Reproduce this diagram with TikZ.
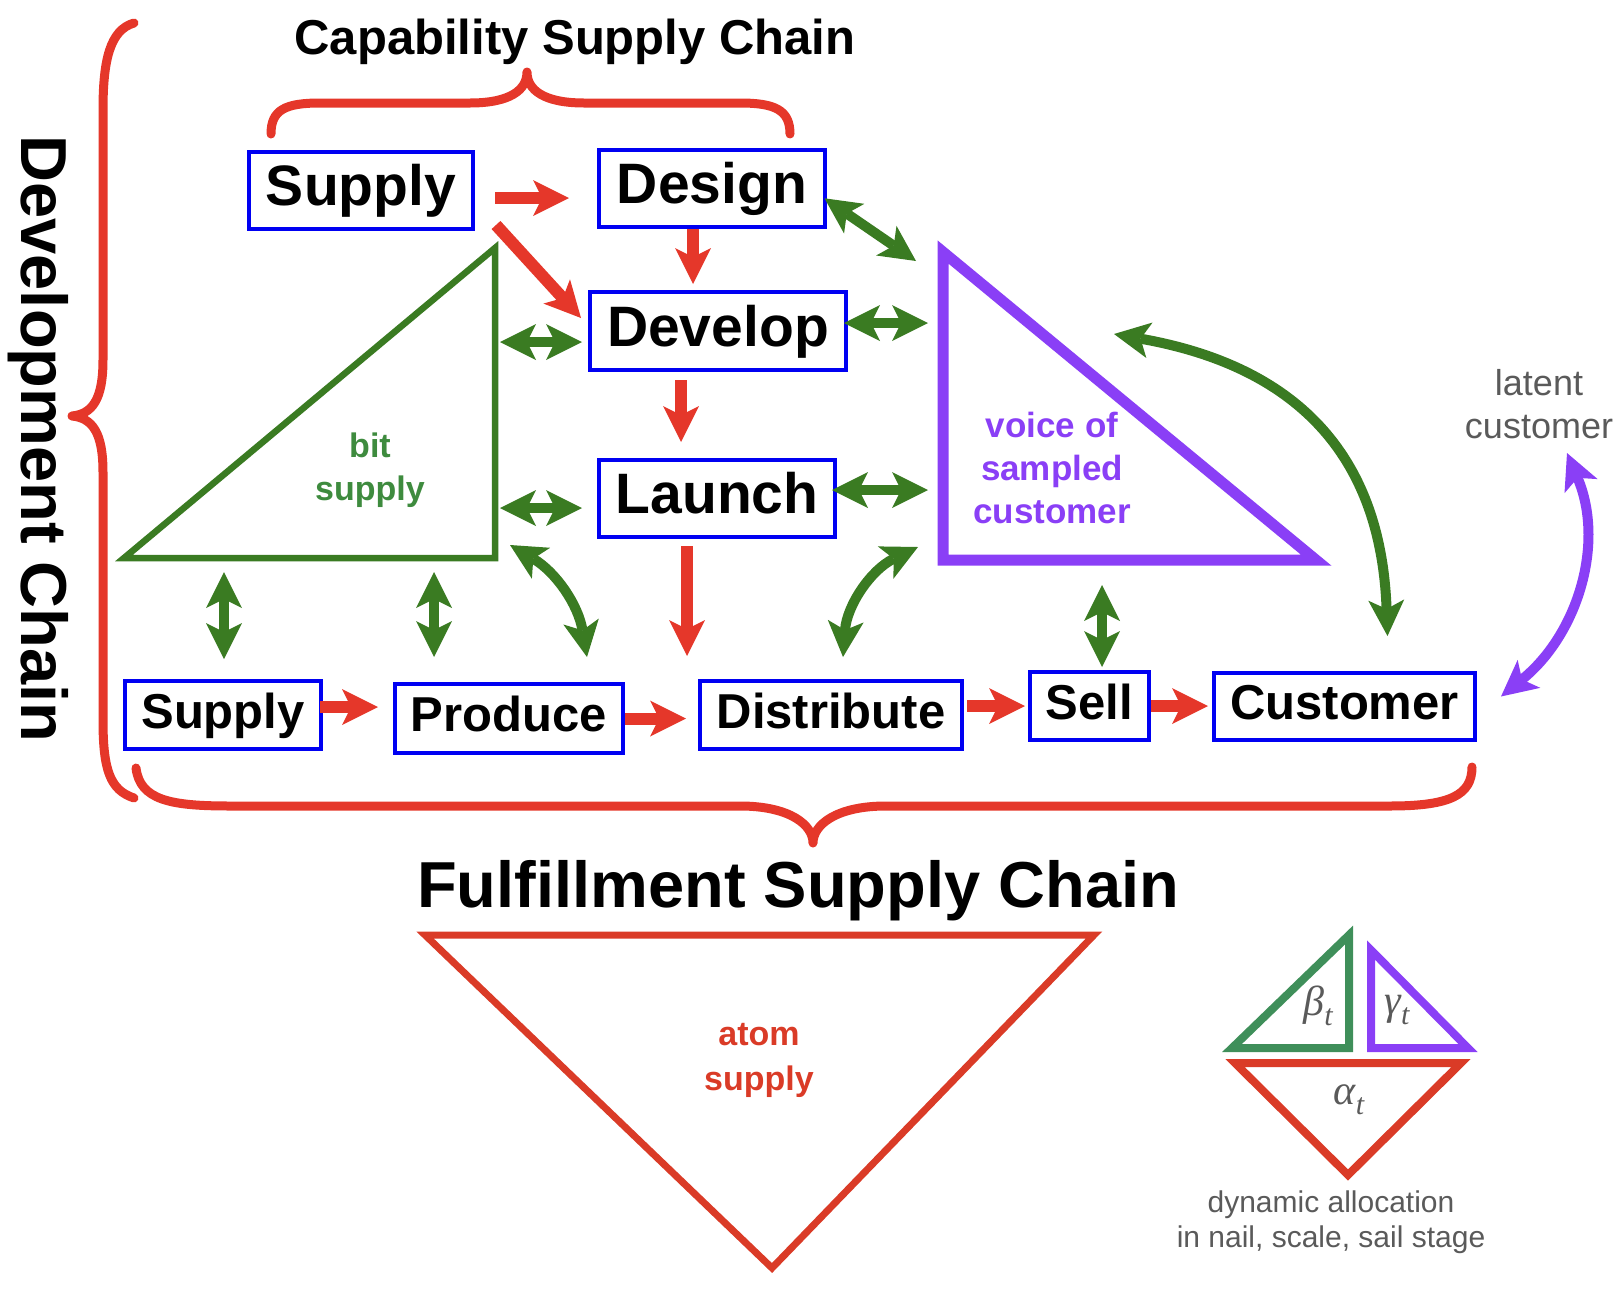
\documentclass[tikz,border=0pt]{standalone}
\usepackage{fontspec}
\setmainfont{Liberation Sans}
\newfontfamily\keyfont{Liberation Serif}
\usetikzlibrary{arrows.meta,positioning,calc}

\definecolor{chainred}{HTML}{E5372A}
\definecolor{atomred}{HTML}{DA3B27}
\definecolor{boxblue}{HTML}{0000F2}
\definecolor{bitgreen}{HTML}{3A7B22}
\definecolor{bittext}{HTML}{3E8B3E}
\definecolor{keygreen}{HTML}{3F8F5A}
\definecolor{voicepurple}{HTML}{8A3FF6}
\definecolor{notegray}{HTML}{5A5A5A}

\newcommand{\keysym}[1]{#1\raisebox{-10pt}{\fontsize{30}{30}\selectfont t}}

\begin{document}
\begin{tikzpicture}[x=1pt, y=1pt,
    stage/.style={rectangle, draw=boxblue, line width=4pt, inner sep=0pt, text height=42pt, text depth=12pt, font=\fontsize{57}{60}\selectfont\bfseries},
    smallstage/.style={stage, text height=36pt, text depth=10pt, font=\fontsize{49}{52}\selectfont\bfseries},
    fat/.tip={Stealth[length=36pt, width=36pt, inset=9pt, line width=0pt]},
    flow/.style={draw=chainred, line width=12pt, -fat},
    link/.style={draw=bitgreen, line width=10pt, fat-fat},
    voicelink/.style={draw=voicepurple, line width=10pt, fat-fat},
    brace/.style={draw=chainred, line width=9pt, line cap=round, line join=round},
    title/.style={anchor=base, font=\fontsize{65}{70}\selectfont\bfseries},
    tag/.style={align=center, font=\fontsize{35}{43}\selectfont\bfseries},
    note/.style={align=center, text=notegray},
    keytag/.style={text=notegray, inner sep=0pt, font=\fontsize{42}{44}\selectfont\keyfont\itshape}
]
\useasboundingbox (0,0) rectangle (1620,-1288);

% Titles
\node (capTitle) [title, font=\fontsize{49}{52}\selectfont\bfseries] at (575,-54) {Capability Supply Chain};
\node (fulTitle) [title] at (798,-907) {Fulfillment Supply Chain};
\node (devTitle) [title, rotate=-90] at (21,-439) {Development Chain};

% Braces
\draw [brace] (271,-134) .. controls (271,-110) and (285,-103) .. (320,-103) -- (470,-103)
    .. controls (510,-103) and (527,-90) .. (527,-72) .. controls (527,-90) and (544,-103) .. (584,-103)
    -- (740,-103) .. controls (775,-103) and (790,-110) .. (790,-134);
\draw [brace] (134,-23) .. controls (110,-30) and (103,-60) .. (103,-110) -- (103,-360)
    .. controls (103,-400) and (92,-414) .. (72,-416) .. controls (92,-418) and (103,-432) .. (103,-472)
    -- (103,-720) .. controls (103,-770) and (110,-790) .. (134,-798);
\draw [brace] (136,-768) .. controls (140,-800) and (170,-806) .. (230,-806) -- (740,-806)
    .. controls (790,-806) and (813,-825) .. (813,-843) .. controls (813,-825) and (836,-806) .. (886,-806)
    -- (1390,-806) .. controls (1450,-806) and (1472,-795) .. (1472,-767);

% Capability chain
\node (supT) [stage, minimum width=224pt, minimum height=77pt] at (361,-190.5) {Supply};
\node (desT) [stage, minimum width=226pt, minimum height=77pt] at (712,-188.5) {Design};
\node (dev) [stage, minimum width=256pt, minimum height=78pt] at (718,-331) {Develop};
\node (lau) [stage, minimum width=236pt, minimum height=77pt] at (717,-498.5) {Launch};

% Fulfillment chain
\node (supB) [smallstage, minimum width=196pt, minimum height=68pt] at (223,-715) {Supply};
\node (pro) [smallstage, minimum width=228pt, minimum height=69pt] at (509,-718.5) {Produce};
\node (dis) [smallstage, minimum width=262pt, minimum height=68pt] at (831,-715) {Distribute};
\node (sel) [smallstage, minimum width=119pt, minimum height=68pt] at (1089.5,-706) {Sell};
\node (cus) [smallstage, minimum width=261pt, minimum height=67pt] at (1344.5,-706.5) {Customer};

% Bit supply triangle
\coordinate (bitL) at (124,-558);
\coordinate (bitR) at (495,-558);
\coordinate (bitT) at (495,-248);
\draw [bitgreen, line width=6.5pt] (bitL) -- (bitR) -- (bitT) -- cycle;
\node (bitText) [tag, text=bittext, font=\fontsize{34}{43}\selectfont\bfseries] at (370,-470) {bit\\supply};
\coordinate (bitDev) at (500,-342);
\coordinate (bitLau) at (500,-508);
\coordinate (bitSup) at (224,-572);
\coordinate (bitPro) at (434,-572);
\coordinate (bitCor) at (510,-545);

% Voice of customer triangle
\coordinate (voiT) at (943,-252);
\coordinate (voiL) at (943,-560);
\coordinate (voiR) at (1316,-560);
\draw [voicepurple, line width=11pt] (voiT) -- (voiL) -- (voiR) -- cycle;
\node (voiText) [tag, text=voicepurple] at (1052,-468) {voice of\\sampled\\customer};
\coordinate (voiDes) at (916,-261);
\coordinate (voiDev) at (928,-323);
\coordinate (voiLau) at (928,-490);
\coordinate (voiDis) at (918,-547);
\coordinate (voiSel) at (1102,-585);
\coordinate (voiCus) at (1114,-334);

% Latent customer
\node (lat) [note, font=\fontsize{36}{43}\selectfont] at (1539,-404) {latent\\customer};
\coordinate (latCus) at (1567,-453);

% Atom supply triangle
\coordinate (atoL) at (425,-935);
\coordinate (atoR) at (1094,-935);
\coordinate (atoB) at (772,-1268);
\draw [atomred, line width=7pt] (atoL) -- (atoR) -- (atoB) -- cycle;
\node (atoText) [tag, text=atomred, font=\fontsize{34}{45}\selectfont\bfseries] at (759,-1060) {atom\\supply};

% Red flow arrows
\draw [flow, shorten <=20pt, shorten >=28pt] ([yshift=-7.5pt]supT.east) -- ([yshift=-7.5pt]supT.east -| desT.west);
\draw [flow] ([xshift=21pt, yshift=6pt]supT.south east) -- ([xshift=-7pt, yshift=13pt]dev.west);
\draw [flow, shorten >=6pt] ([xshift=-19pt]desT.south) -- ([xshift=-19pt]desT.south |- dev.north);
\draw [flow, shorten <=8pt, shorten >=16pt] ([xshift=-37pt]dev.south) -- ([xshift=-37pt]dev.south |- lau.north);
\draw [flow, shorten <=7pt, shorten >=23pt] ([xshift=-30pt]lau.south) -- ([xshift=-30pt]lau.south |- dis.north);
\draw [flow, shorten <=-3pt, shorten >=15pt] ([yshift=8pt]supB.east) -- ([yshift=8pt]supB.east -| pro.west);
\draw [flow, shorten >=12pt] (pro.east) -- (pro.east -| dis.west);
\draw [flow, shorten <=3pt, shorten >=3pt] (sel.west -| dis.east) -- (sel.west);
\draw [flow, shorten >=4pt] (sel.east) -- (sel.east -| cus.west);

% Green links
\draw [link, shorten <=-3pt] ([yshift=-11.5pt]desT.east) -- (voiDes);
\draw [link, shorten <=-4pt] ([yshift=8pt]dev.east) -- (voiDev);
\draw [link, shorten >=6pt] (bitDev) -- ([yshift=-11pt]dev.west);
\draw [link, shorten >=15pt] (bitLau) -- ([yshift=-9.5pt]lau.west);
\draw [link, shorten <=-5pt] ([yshift=8.5pt]lau.east) -- (voiLau);
\draw [link, shorten >=20pt] (bitSup) -- (bitSup |- supB.north);
\draw [link, shorten >=25pt] (bitPro) -- (bitPro |- pro.north);
\draw [link] (bitCor) to[bend left=25] ([xshift=78pt, yshift=25pt]pro.north);
\draw [link] ([xshift=12pt, yshift=22pt]dis.north) to[bend left=30] (voiDis);
\draw [link, shorten >=3pt] (voiSel) -- (voiSel |- sel.north);
\draw [link] (voiCus) to[out=-10, in=92, looseness=1.15] ([xshift=43pt, yshift=35pt]cus.north);
\draw [voicelink] (latCus) to[out=-67, in=39] ([xshift=24pt, yshift=10pt]cus.east);

% Allocation key
\draw [keygreen, line width=8pt] (1232,-1048) -- (1349,-1048) -- (1349,-935) -- cycle;
\draw [voicepurple, line width=8pt] (1371,-950) -- (1371,-1048) -- (1468,-1048) -- cycle;
\draw [atomred, line width=8pt] (1235,-1063) -- (1461,-1063) -- (1348,-1175) -- cycle;
\node (beta) [keytag] at (1318,-1006) {\keysym{β}};
\node (gamma) [keytag] at (1397,-1010) {\keysym{γ}};
\node (alpha) [keytag] at (1349,-1100) {\keysym{α}};
\node (alloc) [note, font=\fontsize{30}{35}\selectfont] at (1331,-1222) {dynamic allocation\\in nail, scale, sail stage};

\end{tikzpicture}
\end{document}
